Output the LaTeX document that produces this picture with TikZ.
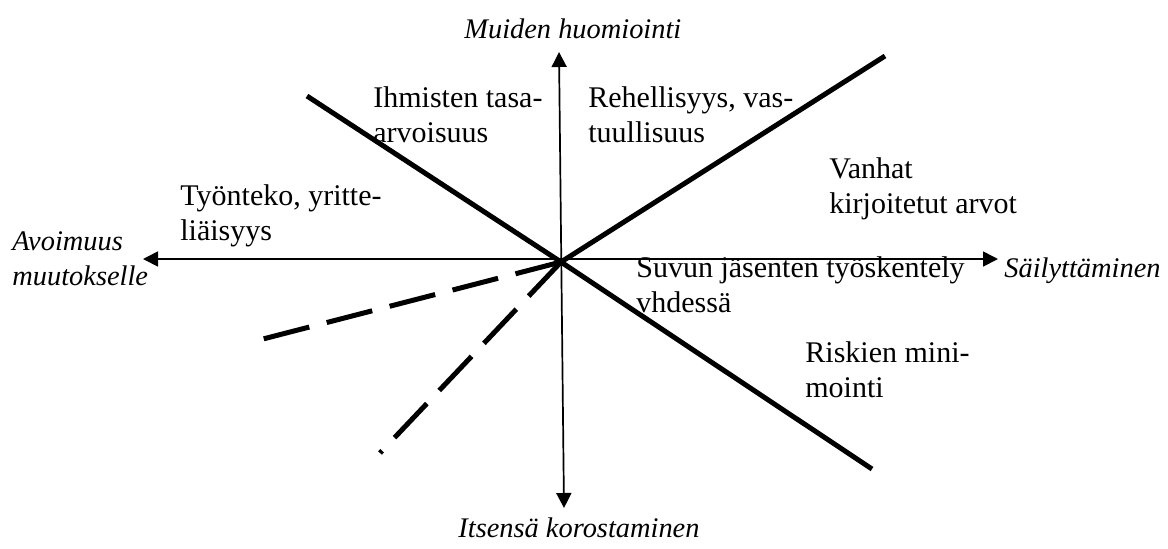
\documentclass[tikz,border=0pt]{standalone}
\usepackage{fontspec}
\setmainfont{Liberation Serif}
\usetikzlibrary{arrows.meta}
\begin{document}
\begin{tikzpicture}[x=0.5pt,y=-0.5pt,
  axis/.style={line width=0.85pt,{Triangle[length=7.5pt,width=7.5pt]}-{Triangle[length=7.5pt,width=7.5pt]}},
  solidline/.style={line width=2.5pt},
  dashline/.style={line width=2.5pt,dash pattern=on 23.5pt off 9pt},
  lab/.style={inner sep=0pt,anchor=base west,align=left,font=\fontsize{15}{17.5}\selectfont},
  axlab/.style={inner sep=0pt,anchor=base west,align=left,font=\fontsize{14.2}{17.5}\selectfont\itshape}]
\useasboundingbox (0,0) rectangle (1168,548);
% coordinates
\coordinate (O) at (561,262);
\coordinate (W) at (143,259);
\coordinate (E) at (998,259);
\coordinate (N) at (559,52);
\coordinate (S) at (564,508);
\coordinate (UL) at (307,96);
\coordinate (LR) at (872,469);
\coordinate (UR) at (885,56);
\coordinate (D1) at (263,339);
\coordinate (D2) at (380,453);
% axes
\draw[axis] (W) -- (E);
\draw[axis] (N) -- (S);
% thick lines
\draw[solidline] (UL) -- (O) -- (LR);
\draw[solidline] (O) -- (UR);
\draw[dashline] (O) -- (D1);
\draw[dashline] (O) -- (D2);
% axis labels (anchor = baseline of last line)
\node[axlab] (top) at (464,38) {Muiden huomiointi};
\node[axlab] (bottom) at (458,537) {Itsensä korostaminen};
\node[axlab] (left) at (12,285) {Avoimuus\\muutokselle};
\node[axlab] (right) at (1004,277) {Säilyttäminen};
% value labels
\node[lab] (l1) at (373,142) {Ihmisten tasa-\\arvoisuus};
\node[lab] (l2) at (588,142) {Rehellisyys, vas-\\tuullisuus};
\node[lab] (l3) at (829,213) {Vanhat\\kirjoitetut arvot};
\node[lab] (l4) at (180,240) {Työnteko, yritte-\\liäisyys};
\node[lab] (l5) at (636,312) {Suvun jäsenten työskentely\\vhdessä};
\node[lab] (l6) at (805,397) {Riskien mini-\\mointi};
\end{tikzpicture}
\end{document}
